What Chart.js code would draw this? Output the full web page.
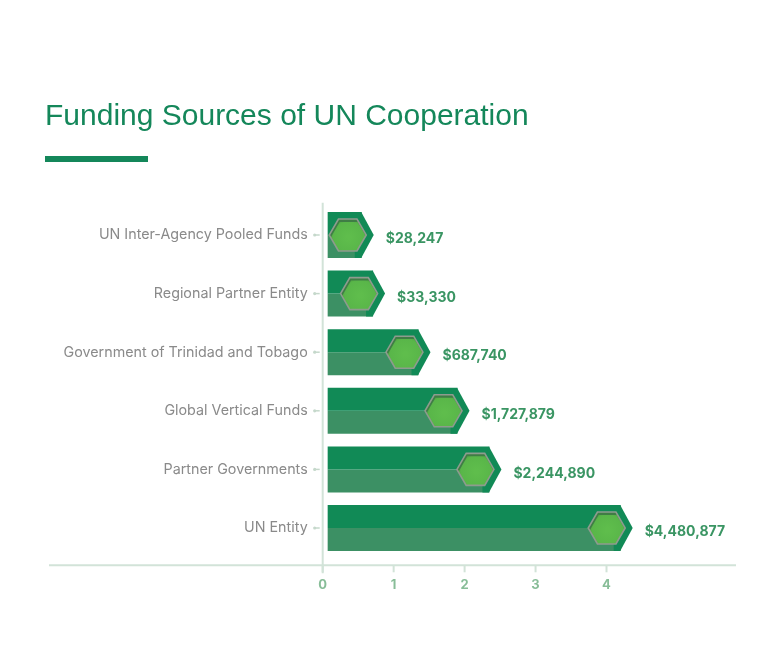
<!DOCTYPE html>
<html>
<head>
<meta charset="utf-8">
<title>Funding Sources of UN Cooperation</title>
<script src="https://cdn.jsdelivr.net/npm/chart.js@4.4.0/dist/chart.umd.min.js"></script>
<style>
  html, body { margin: 0; padding: 0; background: #fff; }
  #wrap { position: relative; width: 768px; height: 668px; }
  #fundingChart { position: absolute; left: 0; top: 0; }
  #title {
    position: absolute; left: 45px; top: 100px; margin: 0;
    font: 400 30px/30px "Liberation Sans", Arial, sans-serif;
    color: #14875a; white-space: nowrap;
  }
  #rule { position: absolute; left: 45px; top: 156px; width: 103px; height: 6px; background: #14875a; }
</style>
</head>
<body>
<div id="wrap">
  <canvas id="fundingChart" width="768" height="668"></canvas>
  <h1 id="title">Funding Sources of UN Cooperation</h1>
  <div id="rule"></div>
</div>
<script>
// Datos del gráfico
const categories = [
  'UN Inter-Agency Pooled Funds',
  'Regional Partner Entity',
  'Government of Trinidad and Tobago',
  'Global Vertical Funds',
  'Partner Governments',
  'UN Entity'
];
const amounts = ['$28,247', '$33,330', '$687,740', '$1,727,879', '$2,244,890', '$4,480,877'];
// largo de cada barra leído sobre el eje 0-4 (sin la punta)
const barLengths = [0.55, 0.71, 1.35, 1.90, 2.35, 4.20];
const tickLabels = [0, 1, 2, 3, 4];

const DARK = '#118a56';
const LIGHT = '#3c9064';
const AXIS = '#d2e3d8';

function hexPath(ctx, cx, cy, r) {
  ctx.beginPath();
  for (let k = 0; k < 6; k++) {
    const a = Math.PI / 3 * k;
    const px = cx + r * Math.cos(a);
    const py = cy + r * Math.sin(a);
    if (k === 0) ctx.moveTo(px, py); else ctx.lineTo(px, py);
  }
  ctx.closePath();
}

// Líneas de ejes, puntas, hexágonos y montos
const axisPlugin = {
  id: 'axisLines',
  beforeDatasetsDraw(chart) {
    const ctx = chart.ctx;
    const area = chart.chartArea;
    const xs = chart.scales.x;
    const ys = chart.scales.y;
    const axisY = area.bottom + 8;
    const x0 = xs.getPixelForValue(0);
    ctx.save();
    ctx.strokeStyle = AXIS;
    ctx.lineWidth = 2;
    ctx.beginPath();
    ctx.moveTo(49, axisY);
    ctx.lineTo(736, axisY);
    ctx.stroke();
    ctx.beginPath();
    ctx.moveTo(x0, area.top - 3);
    ctx.lineTo(x0, axisY + 8);
    ctx.stroke();
    tickLabels.forEach(v => {
      const px = xs.getPixelForValue(v);
      ctx.beginPath();
      ctx.moveTo(px, axisY);
      ctx.lineTo(px, axisY + 7);
      ctx.stroke();
    });
    ctx.lineWidth = 1.5;
    ctx.fillStyle = '#c5d8cb';
    ctx.strokeStyle = '#c5d8cb';
    categories.forEach((c, i) => {
      const py = ys.getPixelForValue(i);
      ctx.beginPath();
      ctx.moveTo(x0 - 8, py);
      ctx.lineTo(x0 - 3, py);
      ctx.stroke();
      ctx.beginPath();
      ctx.arc(x0 - 8, py, 1.6, 0, Math.PI * 2);
      ctx.fill();
    });
    ctx.restore();
  },
  afterDatasetsDraw(chart) {
    const ctx = chart.ctx;
    const upper = chart.getDatasetMeta(0).data;
    const lower = chart.getDatasetMeta(1).data;
    ctx.save();
    upper.forEach((bar, i) => {
      const end = bar.x;
      const top = bar.y - bar.height / 2;
      const mid = bar.y + bar.height / 2;
      const bottom = lower[i].y + lower[i].height / 2;
      const tip = end + 12;

      // punta de la barra
      ctx.fillStyle = DARK;
      ctx.beginPath();
      ctx.moveTo(end - 0.5, top);
      ctx.lineTo(tip, mid);
      ctx.lineTo(end - 0.5, bottom);
      ctx.lineTo(end - 7, bottom);
      ctx.lineTo(end - 7, mid);
      ctx.closePath();
      ctx.fill();

      // hexágono
      const cx = tip - 26;
      const r = 18.5;
      hexPath(ctx, cx, mid, r);
      ctx.fillStyle = '#3f7d45';
      ctx.fill();
      ctx.save();
      hexPath(ctx, cx, mid, r);
      ctx.clip();
      const g = ctx.createRadialGradient(cx + 1, mid + 2, 2, cx + 1, mid + 2, r);
      g.addColorStop(0, '#5fbd4c');
      g.addColorStop(0.8, '#59b649');
      g.addColorStop(1, '#4fa442');
      hexPath(ctx, cx + 1, mid + 2.5, r - 0.5);
      ctx.fillStyle = g;
      ctx.fill();
      ctx.restore();
      hexPath(ctx, cx, mid, r);
      ctx.strokeStyle = '#8e9b8e';
      ctx.lineWidth = 1.6;
      ctx.stroke();

      // monto
      ctx.fillStyle = '#3a9563';
      ctx.font = 'bold 14px Inter, "DejaVu Sans", sans-serif';
      ctx.textAlign = 'left';
      ctx.textBaseline = 'middle';
      ctx.fillText(amounts[i], tip + 12, mid + 4);
    });
    ctx.restore();
  }
};

const ctx = document.getElementById('fundingChart').getContext('2d');
const fundingChart = new Chart(ctx, {
  type: 'bar',
  data: {
    labels: categories,
    datasets: [
      { label: 'upper', data: barLengths, backgroundColor: DARK, base: 0.07, borderWidth: 0 },
      { label: 'lower', data: barLengths, backgroundColor: LIGHT, base: 0.07, borderWidth: 0 }
    ]
  },
  options: {
    indexAxis: 'y',
    responsive: false,
    animation: false,
    categoryPercentage: 0.785,
    barPercentage: 1,
    layout: { padding: { top: 205.7, left: 0, right: 32, bottom: 0 } },
    plugins: {
      legend: { display: false },
      tooltip: { enabled: false }
    },
    scales: {
      x: {
        min: 0,
        max: 5.825,
        grid: { display: false },
        border: { display: false },
        afterBuildTicks: (scale) => {
          scale.ticks = tickLabels.map(v => ({ value: v }));
        },
        afterFit: (scale) => { scale.height = 110.7; },
        ticks: {
          padding: 12,
          color: '#88bd98',
          font: { family: 'Inter, sans-serif', size: 13, weight: 'bold' },
          callback: (v) => String(v)
        }
      },
      y: {
        grid: { display: false },
        border: { display: false },
        afterFit: (scale) => { scale.width = 322.7; },
        ticks: {
          padding: 7,
          color: '#8a8a8a',
          font: { family: 'Inter, sans-serif', size: 14.3 }
        }
      }
    }
  },
  plugins: [axisPlugin]
});
</script>
</body>
</html>
